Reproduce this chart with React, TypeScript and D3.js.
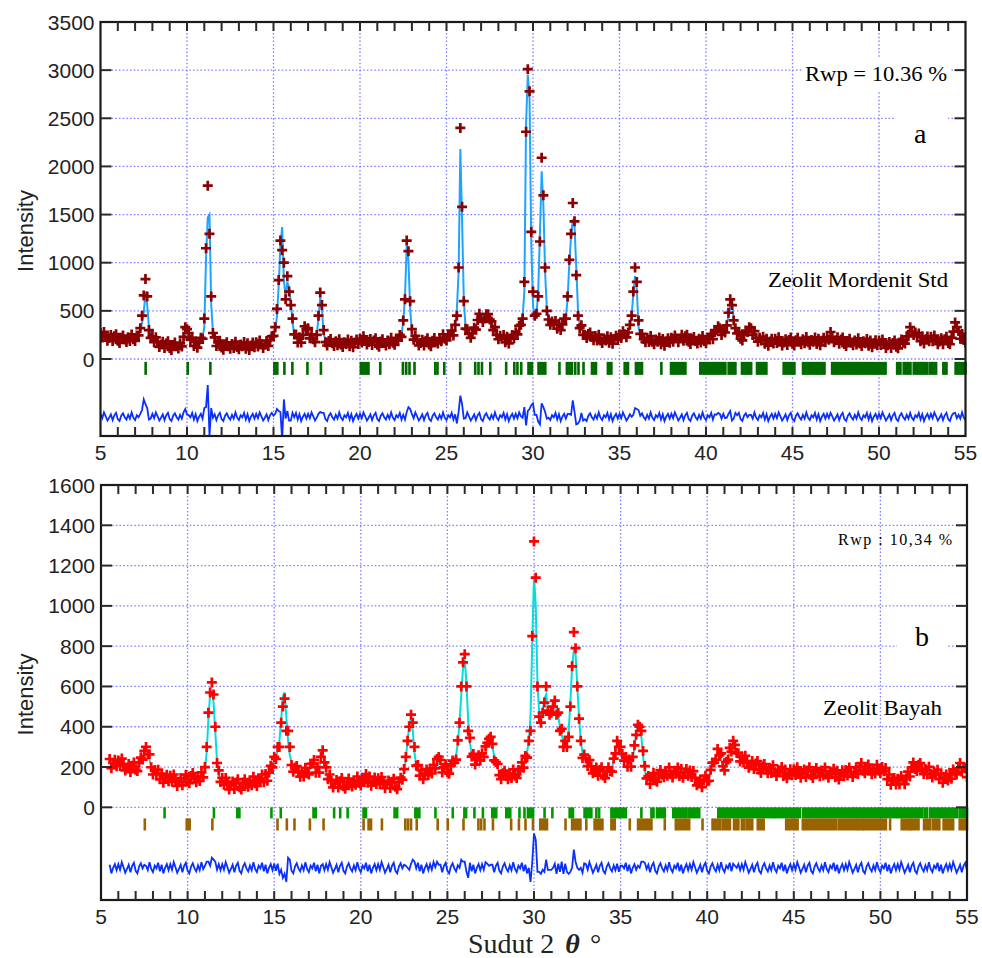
import React, { useRef, useEffect } from "react";
import * as d3 from "d3";

// 2-theta grid: panel a starts at 5.0, panel b at 5.5, both 0.1 deg steps
const stepA = 0.1;
const startA = 5.0;
const startB = 5.5;

// panel a : Zeolit Mordenit Std (observed)
const obsA = [
  270, 223, 281, 238, 190, 218, 250, 187, 235, 258,
  190, 167, 220, 243, 202, 176, 226, 187, 255, 205,
  187, 245, 245, 320, 450, 660, 830, 650, 300, 220,
  235, 175, 225, 177, 125, 150, 180, 115, 161, 183,
  115, 93, 146, 170, 131, 108, 162, 130, 230, 330,
  310, 270, 200, 220, 135, 185, 117, 170, 220, 210,
  420, 1150, 1800, 1300, 650, 270, 225, 135, 173, 190,
  120, 97, 150, 173, 132, 106, 155, 115, 180, 125,
  100, 150, 131, 176, 107, 163, 94, 140, 171, 122,
  173, 130, 192, 155, 113, 147, 187, 135, 195, 235,
  240, 330, 520, 820, 1230, 1130, 1000, 620, 860, 700,
  560, 420, 255, 255, 170, 225, 170, 250, 340, 310,
  320, 215, 255, 205, 175, 250, 450, 690, 560, 300,
  175, 140, 188, 207, 163, 135, 183, 142, 206, 150,
  125, 175, 156, 202, 133, 190, 122, 170, 203, 156,
  210, 170, 235, 197, 150, 177, 208, 145, 192, 215,
  148, 127, 181, 205, 165, 141, 192, 153, 220, 168,
  147, 203, 191, 250, 230, 400, 620, 1230, 1120, 600,
  310, 200, 240, 190, 140, 167, 200, 139, 189, 215,
  151, 133, 190, 218, 182, 162, 218, 185, 257, 210,
  193, 251, 240, 295, 245, 355, 450, 950, 2400, 1580,
  600, 315, 310, 260, 220, 265, 325, 305, 405, 470,
  425, 385, 420, 465, 465, 410, 390, 300, 330, 250,
  205, 240, 210, 248, 175, 230, 162, 212, 250, 212,
  278, 255, 345, 355, 420, 800, 2360, 3010, 2780, 1320,
  700, 450, 470, 650, 1220, 2090, 1700, 950, 500, 410,
  355, 390, 360, 395, 315, 365, 300, 360, 420, 420,
  650, 1030, 1300, 1620, 1430, 870, 450, 320, 350, 250,
  250, 217, 260, 275, 227, 195, 238, 192, 252, 193,
  165, 213, 192, 237, 168, 225, 158, 207, 242, 198,
  255, 218, 287, 257, 225, 275, 355, 450, 700, 950,
  800, 400, 260, 260, 207, 175, 220, 176, 238, 180,
  153, 201, 180, 224, 153, 208, 138, 184, 216, 168,
  221, 180, 245, 212, 175, 212, 251, 190, 235, 252,
  180, 155, 206, 228, 186, 160, 210, 171, 238, 186,
  165, 220, 207, 262, 206, 280, 300, 340, 320, 250,
  295, 275, 350, 480, 620, 560, 400, 320, 265, 280,
  210, 193, 255, 295, 280, 330, 320, 250, 290, 218,
  180, 220, 193, 232, 158, 210, 138, 182, 211, 160,
  210, 165, 225, 185, 140, 170, 205, 146, 197, 223,
  159, 140, 195, 220, 180, 154, 204, 163, 228, 173,
  148, 198, 178, 224, 155, 211, 142, 189, 221, 174,
  228, 200, 280, 230, 175, 195, 225, 158, 203, 224,
  156, 134, 187, 210, 169, 143, 192, 151, 215, 160,
  134, 184, 163, 208, 137, 192, 121, 165, 194, 143,
  192, 145, 203, 161, 114, 142, 176, 115, 165, 191,
  128, 111, 170, 201, 170, 160, 235, 235, 330, 290,
  250, 275, 235, 265, 185, 235, 162, 205, 234, 183,
  232, 185, 243, 201, 154, 182, 215, 154, 204, 230,
  167, 153, 220, 285, 380, 330, 290, 210, 260, 198,
  170,
];

// panel a : calculated profile
const calcA = [
  240, 238, 236, 233, 230, 228, 225, 222, 220, 218,
  215, 212, 210, 208, 207, 206, 206, 207, 210, 215,
  222, 230, 250, 290, 380, 480, 700, 560, 330, 240,
  205, 190, 180, 172, 165, 160, 155, 150, 146, 143,
  140, 138, 136, 135, 136, 138, 142, 150, 185, 250,
  285, 255, 205, 180, 165, 160, 162, 170, 190, 230,
  330, 1050, 1470, 1500, 560, 280, 200, 170, 158, 150,
  145, 142, 140, 138, 137, 136, 135, 135, 135, 135,
  135, 135, 136, 136, 137, 138, 139, 140, 141, 142,
  143, 145, 147, 150, 153, 157, 162, 170, 180, 195,
  230, 300, 440, 760, 1180, 1370, 820, 640, 800, 740,
  600, 380, 260, 215, 200, 200, 215, 250, 310, 330,
  290, 230, 210, 200, 215, 260, 420, 640, 520, 260,
  200, 185, 178, 172, 168, 165, 163, 162, 161, 160,
  160, 160, 161, 162, 163, 165, 167, 170, 173, 176,
  180, 185, 190, 192, 190, 187, 183, 180, 177, 175,
  173, 172, 171, 170, 170, 171, 172, 173, 175, 178,
  182, 188, 196, 210, 260, 380, 650, 1180, 1020, 520,
  280, 215, 195, 185, 180, 177, 175, 174, 174, 175,
  176, 178, 180, 183, 187, 192, 198, 205, 212, 220,
  228, 236, 245, 255, 275, 330, 520, 900, 2180, 1450,
  620, 330, 265, 255, 260, 275, 300, 340, 390, 430,
  450, 430, 410, 430, 470, 440, 370, 320, 285, 260,
  240, 225, 215, 208, 205, 205, 207, 212, 220, 232,
  248, 270, 300, 350, 430, 700, 2450, 2950, 2700, 1200,
  560, 430, 450, 700, 1300, 1950, 1600, 900, 520, 420,
  390, 375, 365, 355, 345, 340, 345, 360, 390, 440,
  620, 1000, 1280, 1450, 1380, 950, 520, 360, 310, 290,
  275, 262, 250, 240, 232, 225, 218, 212, 207, 203,
  200, 198, 197, 197, 198, 200, 203, 207, 212, 218,
  225, 233, 242, 252, 265, 285, 330, 450, 680, 860,
  720, 330, 250, 225, 212, 205, 200, 196, 193, 190,
  188, 186, 185, 184, 183, 183, 183, 184, 186, 188,
  191, 195, 200, 207, 215, 222, 226, 225, 220, 212,
  205, 200, 196, 193, 191, 190, 190, 191, 193, 196,
  200, 205, 212, 222, 236, 255, 280, 300, 290, 270,
  265, 290, 360, 450, 560, 600, 420, 280, 250, 240,
  235, 238, 245, 260, 285, 310, 300, 270, 245, 228,
  215, 205, 198, 192, 188, 185, 183, 182, 181, 180,
  180, 180, 180, 180, 180, 180, 180, 181, 182, 183,
  184, 185, 185, 185, 185, 184, 184, 183, 183, 183,
  183, 183, 183, 184, 185, 186, 187, 189, 191, 194,
  198, 215, 240, 225, 215, 205, 200, 193, 188, 184,
  181, 179, 177, 175, 174, 173, 172, 171, 170, 170,
  169, 169, 168, 168, 167, 167, 166, 165, 164, 163,
  162, 160, 158, 156, 154, 152, 151, 150, 150, 151,
  153, 156, 160, 166, 175, 190, 215, 255, 290, 300,
  285, 260, 240, 225, 215, 210, 207, 205, 204, 203,
  202, 200, 198, 196, 194, 192, 190, 189, 189, 190,
  192, 198, 210, 250, 340, 345, 270, 230, 215, 208,
  205,
];

// panel a : reflection positions (single lines or dense ranges)
const reflA = [
  [7.61], [10.04], [11.35], [15.05, 15.22], [15.63], [16.09], [16.96], [17.74],
  [20.05, 20.49], [21.17], [22.48], [22.67], [22.86], [23.15], [24.35], [24.48],
  [24.87], [25.79], [26.66], [26.85], [27.05], [27.53], [28.45], [28.92], [29.1],
  [29.32], [29.74, 29.94], [30.32, 30.71], [31.53], [31.96, 32.25], [32.44],
  [32.63], [32.92], [33.41, 33.64], [34.33, 34.53], [35.3, 35.49], [35.95, 36.3],
  [37.42], [37.98, 38.81], [39.67, 39.83], [39.96, 40.64], [40.74, 41.12],
  [41.31, 41.7], [42.08, 42.33], [42.41, 42.61], [42.95, 43.49], [44.49, 45.11],
  [45.61, 46.33], [46.43, 46.85], [47.29, 47.48], [47.58, 48.64], [48.72, 50.1],
  [50.24, 50.38], [51.05, 51.24], [51.43, 51.82], [52.01, 52.34], [52.44, 52.79],
  [52.94, 53.3], [53.72, 53.9], [54.43, 55.0],
];

// panel b : Zeolit Bayah (observed)
const obsB = [
  240, 194, 220, 236, 204,
  233, 205, 242, 215, 183, 198, 215, 175, 206, 223,
  187, 180, 221, 247, 237, 280, 300, 263, 263, 199,
  163, 185, 165, 187, 139, 168, 122, 147, 162, 129,
  157, 127, 163, 136, 106, 124, 145, 109, 143, 162,
  128, 120, 156, 170, 142, 125, 154, 131, 174, 149,
  200, 300, 470, 570, 620, 560, 400, 220, 183, 126,
  146, 112, 146, 118, 89, 107, 128, 91, 123, 139,
  100, 88, 123, 140, 116, 102, 133, 110, 152, 120,
  106, 141, 131, 163, 125, 165, 132, 172, 206, 198,
  250, 240, 300, 300, 420, 500, 540, 380, 380, 300,
  210, 177, 198, 205, 173, 152, 178, 153, 196, 169,
  163, 215, 217, 235, 172, 200, 172, 250, 283, 223,
  198, 140, 163, 131, 99, 116, 136, 98, 130, 145,
  105, 92, 126, 143, 118, 104, 135, 112, 153, 121,
  108, 144, 135, 165, 122, 153, 107, 132, 148, 116,
  144, 114, 150, 124, 95, 113, 133, 96, 127, 142,
  102, 90, 126, 147, 137, 190, 250, 330, 400, 460,
  420, 300, 207, 210, 157, 185, 140, 168, 188, 160,
  193, 168, 210, 193, 240, 250, 235, 173, 198, 213,
  175, 167, 206, 232, 222, 237, 332, 420, 600, 720,
  760, 600, 380, 345, 252, 265, 212, 238, 258, 233,
  268, 250, 303, 320, 340, 350, 315, 233, 225, 215,
  160, 140, 169, 182, 155, 139, 169, 146, 188, 157,
  146, 185, 182, 223, 197, 255, 247, 330, 380, 850,
  1320, 1140, 600, 450, 420, 470, 520, 600, 480, 460,
  470, 500, 530, 460, 470, 380, 390, 300, 330, 300,
  350, 500, 700, 870, 790, 600, 440, 330, 245, 262,
  243, 205, 235, 203, 169, 182, 198, 157, 186, 199,
  158, 145, 180, 199, 180, 177, 242, 268, 330, 300,
  300, 265, 232, 250, 202, 237, 202, 250, 308, 360,
  410, 400, 380, 280, 205, 144, 155, 116, 150, 170,
  135, 127, 166, 185, 162, 149, 180, 157, 198, 164,
  148, 181, 169, 198, 156, 190, 147, 174, 190, 157,
  183, 150, 180, 146, 109, 121, 138, 100, 135, 157,
  130, 132, 186, 222, 222, 237, 290, 258, 268, 204,
  183, 225, 237, 295, 277, 330, 310, 270, 268, 228,
  253, 222, 256, 228, 197, 212, 230, 190, 218, 230,
  187, 171, 202, 215, 187, 169, 197, 171, 209, 174,
  156, 187, 173, 200, 156, 188, 144, 172, 189, 159,
  189, 161, 199, 175, 147, 166, 188, 151, 183, 199,
  159, 146, 180, 195, 170, 154, 183, 158, 198, 163,
  147, 178, 165, 192, 149, 181, 138, 166, 184, 154,
  185, 158, 198, 176, 151, 174, 199, 166, 202, 220,
  182, 169, 201, 212, 182, 164, 192, 168, 211, 182,
  170, 200, 179, 195, 140, 163, 112, 133, 146, 113,
  142, 115, 156, 136, 115, 144, 177, 153, 198, 223,
  190, 180, 211, 220, 187, 165, 190, 163, 201, 166,
  148, 178, 162, 187, 140, 169, 122, 147, 163, 133,
  165, 142, 188, 175, 163, 194, 220, 176, 195, 197,
  150,
];

// panel b : calculated profile
const calcB = [
  225, 222, 220, 218, 216,
  215, 215, 214, 212, 208, 204, 200, 197, 196, 198,
  202, 208, 215, 225, 240, 265, 290, 275, 235, 205,
  185, 175, 168, 162, 157, 153, 150, 147, 144, 141,
  139, 137, 135, 133, 131, 130, 130, 131, 133, 137,
  143, 148, 150, 148, 145, 143, 142, 143, 146, 155,
  190, 270, 440, 560, 570, 520, 370, 230, 165, 138,
  128, 122, 118, 115, 114, 113, 113, 113, 113, 114,
  115, 116, 117, 118, 119, 120, 121, 122, 124, 126,
  128, 131, 134, 138, 143, 150, 160, 172, 188, 210,
  230, 255, 280, 330, 430, 550, 570, 450, 330, 260,
  225, 205, 192, 183, 176, 170, 166, 165, 168, 175,
  185, 205, 220, 210, 190, 185, 200, 240, 265, 235,
  180, 150, 135, 128, 124, 122, 121, 120, 120, 120,
  120, 120, 120, 121, 121, 122, 123, 124, 125, 127,
  130, 134, 138, 140, 140, 138, 135, 132, 130, 128,
  126, 124, 122, 121, 120, 119, 118, 118, 117, 117,
  117, 118, 120, 125, 140, 175, 240, 330, 410, 440,
  380, 270, 210, 185, 175, 170, 168, 168, 170, 172,
  175, 178, 182, 190, 210, 235, 220, 195, 188, 188,
  190, 195, 200, 210, 225, 255, 320, 420, 560, 690,
  730, 620, 430, 320, 270, 250, 240, 238, 240, 245,
  250, 260, 275, 300, 330, 335, 300, 255, 215, 190,
  175, 168, 163, 160, 158, 157, 157, 158, 160, 163,
  168, 175, 185, 198, 215, 240, 275, 330, 450, 820,
  1150, 1000, 620, 470, 450, 480, 540, 560, 490, 470,
  480, 500, 510, 490, 450, 400, 360, 330, 310, 320,
  380, 520, 700, 780, 760, 600, 450, 330, 270, 240,
  225, 215, 207, 200, 194, 188, 183, 179, 176, 174,
  173, 173, 174, 177, 183, 195, 230, 280, 310, 320,
  290, 255, 235, 225, 220, 222, 230, 250, 290, 370,
  400, 400, 350, 250, 180, 150, 140, 138, 140, 145,
  150, 155, 160, 163, 165, 167, 168, 169, 170, 170,
  170, 171, 172, 173, 174, 175, 175, 174, 172, 169,
  165, 160, 152, 143, 134, 127, 123, 122, 125, 132,
  145, 160, 180, 200, 225, 255, 275, 270, 240, 210,
  205, 215, 240, 270, 295, 310, 300, 270, 250, 240,
  235, 232, 228, 225, 222, 218, 215, 212, 208, 205,
  202, 199, 196, 193, 190, 187, 185, 183, 181, 180,
  178, 177, 176, 175, 174, 173, 172, 172, 171, 171,
  171, 171, 171, 172, 172, 172, 173, 173, 173, 174,
  174, 174, 174, 173, 173, 172, 171, 170, 170, 169,
  169, 168, 168, 167, 167, 166, 166, 166, 166, 166,
  167, 168, 170, 173, 176, 180, 184, 188, 192, 195,
  197, 197, 195, 190, 185, 182, 180, 180, 183, 188,
  192, 190, 182, 170, 158, 148, 140, 133, 128, 125,
  124, 125, 128, 133, 140, 150, 162, 175, 188, 198,
  205, 208, 205, 198, 190, 183, 178, 175, 173, 172,
  170, 168, 165, 162, 158, 154, 150, 147, 145, 145,
  147, 152, 160, 172, 188, 200, 205, 198, 185, 172,
  165,
];

// panel b : reflections of phase 1 (green) and phase 2 (brown)
const reflB1 = [
  [8.67], [11.52], [12.87, 12.99], [14.84], [15.38], [17.27, 17.4], [18.46],
  [18.81], [19.24], [20.16, 20.3], [21.95, 22.1], [23.15, 23.38], [24.31],
  [25.31], [25.98, 26.08], [26.56], [27.05], [27.59, 27.82], [28.4, 28.63],
  [29.16], [29.45], [29.65, 29.94], [30.61], [31.06], [32.06, 32.25],
  [32.92, 33.31], [33.6], [33.76], [34.47, 34.66], [34.8, 34.9], [35.0, 35.3],
  [36.2], [36.78, 36.9], [37.1, 37.55], [38.04, 38.81], [38.96, 39.54],
  [40.64, 41.89], [41.99, 42.28], [42.37, 43.14], [43.24, 43.82], [43.91, 45.36],
  [45.55, 46.51], [46.61, 48.45], [48.55, 48.7], [48.83, 49.8], [49.9, 50.95],
  [51.05, 52.4], [52.55, 52.7], [52.88, 54.43], [54.58, 55.0],
];
const reflB2 = [
  [7.53], [9.95, 10.12], [11.43], [15.19], [15.73], [16.17], [17.06], [17.85],
  [20.16], [20.45, 20.59], [21.22], [22.57], [22.73], [22.9], [23.23], [24.44],
  [25.02], [25.93], [26.79], [26.95], [27.14], [27.63], [28.68], [29.13],
  [29.51], [29.94], [30.36, 30.75], [31.82], [32.2, 32.68], [33.02], [33.5, 33.95],
  [34.47, 34.66], [35.53], [36.01, 36.78], [37.55], [38.19, 38.96], [39.73],
  [40.31, 40.74], [40.89, 41.31], [41.55, 41.8], [42.0, 42.15], [42.3, 42.6],
  [42.92, 43.26], [44.56, 45.22], [45.52, 46.96], [47.1, 47.45], [47.6, 48.64],
  [48.75, 49.0], [49.05, 50.32], [50.56], [51.23, 51.72], [51.8, 52.2],
  [52.52, 52.88], [53.05, 53.4], [53.65, 53.94], [54.05, 54.2], [54.58, 55.0],
];

const xTicks = [5, 10, 15, 20, 25, 30, 35, 40, 45, 50, 55];
const yTicksA = [0, 500, 1000, 1500, 2000, 2500, 3000, 3500];
const yTicksB = [0, 200, 400, 600, 800, 1000, 1200, 1400, 1600];

const SANS = "'Liberation Sans', Arial, sans-serif";
const SERIF = "'Liberation Serif', 'Times New Roman', serif";

type Panel = {
  id: string;
  left: number;
  right: number;
  top: number;
  bottom: number;
  yDomain: [number, number];
  yTicks: number[];
  start: number;
  obs: number[];
  calc: number[];
  diffOffset: number;
  obsColor: string;
  calcColor: string;
  phases: { refl: number[][]; color: string; y0: number; y1: number }[];
  xLabelY: number;
};

const drawPanel = (svg: any, p: Panel) => {
  const xScale = d3.scaleLinear().domain([5, 55]).range([p.left, p.right]);
  const yScale = d3.scaleLinear().domain(p.yDomain).range([p.bottom, p.top]);
  const gridMax = p.yTicks[p.yTicks.length - 2];

  svg
    .append("defs")
    .append("clipPath")
    .attr("id", "clip-" + p.id)
    .append("rect")
    .attr("x", p.left)
    .attr("y", p.top)
    .attr("width", p.right - p.left)
    .attr("height", p.bottom - p.top);

  const g = svg.append("g");

  // dotted grid
  const grid = g
    .append("g")
    .attr("stroke", "#7c7cff")
    .attr("stroke-width", 1.3)
    .attr("stroke-dasharray", "1.5,2.2");
  grid
    .selectAll("line.gv")
    .data(xTicks.slice(1, -1))
    .join("line")
    .attr("class", "gv")
    .attr("x1", (d) => xScale(d))
    .attr("x2", (d) => xScale(d))
    .attr("y1", p.top)
    .attr("y2", p.bottom);
  grid
    .selectAll("line.gh")
    .data(p.yTicks.filter((d) => d <= gridMax))
    .join("line")
    .attr("class", "gh")
    .attr("x1", p.left)
    .attr("x2", p.right)
    .attr("y1", (d) => yScale(d))
    .attr("y2", (d) => yScale(d));

  // reflection markers
  p.phases.forEach((ph) => {
    g.append("g")
      .attr("fill", ph.color)
      .selectAll("rect")
      .data(ph.refl)
      .join("rect")
      .attr("x", (d) => xScale(d[0]) - 1.3)
      .attr("width", (d) => Math.max(2.6, xScale(d[d.length - 1]) - xScale(d[0]) + 2.6))
      .attr("y", yScale(ph.y0))
      .attr("height", yScale(ph.y1) - yScale(ph.y0));
  });

  const xAt = (i: number) => xScale(p.start + i * stepA);
  const plot = g.append("g").attr("clip-path", `url(#clip-${p.id})`);

  // calculated profile
  const calcLine = d3
    .line<number>()
    .x((d, i) => xAt(i))
    .y((d) => yScale(d));
  plot
    .append("path")
    .attr("d", calcLine(p.calc))
    .attr("fill", "none")
    .attr("stroke", p.calcColor)
    .attr("stroke-width", 2);

  // observed points as "+"
  const s = 5;
  const plus = p.obs
    .map((v, i) => {
      const x = xAt(i);
      const y = yScale(v);
      return `M${x - s},${y}H${x + s}M${x},${y - s}V${y + s}`;
    })
    .join("");
  plot
    .append("path")
    .attr("d", plus)
    .attr("fill", "none")
    .attr("stroke", p.obsColor)
    .attr("stroke-width", 2.7);

  // difference curve (obs - calc), shifted below the zero line
  const diffLine = d3
    .line<number>()
    .x((d, i) => xAt(i))
    .y((d, i) => yScale(p.obs[i] - d + p.diffOffset));
  plot
    .append("path")
    .attr("d", diffLine(p.calc))
    .attr("fill", "none")
    .attr("stroke", "#0a30ff")
    .attr("stroke-width", 1.8);

  // frame
  g.append("rect")
    .attr("x", p.left)
    .attr("y", p.top)
    .attr("width", p.right - p.left)
    .attr("height", p.bottom - p.top)
    .attr("fill", "none")
    .attr("stroke", "#1a1a1a")
    .attr("stroke-width", 2.2);

  // inward ticks
  const ticks = g.append("g").attr("stroke", "#2a2a2a").attr("stroke-width", 2);
  const minor = d3.range(6, 55);
  ticks
    .selectAll("line.tt")
    .data(minor)
    .join("line")
    .attr("class", "tt")
    .attr("x1", (d) => xScale(d))
    .attr("x2", (d) => xScale(d))
    .attr("y1", p.top)
    .attr("y2", p.top + 9);
  ticks
    .selectAll("line.tb")
    .data(minor)
    .join("line")
    .attr("class", "tb")
    .attr("x1", (d) => xScale(d))
    .attr("x2", (d) => xScale(d))
    .attr("y1", p.bottom - 9)
    .attr("y2", p.bottom);
  const yt = p.yTicks.filter((d) => d <= gridMax);
  ticks
    .selectAll("line.tl")
    .data(yt)
    .join("line")
    .attr("class", "tl")
    .attr("x1", p.left)
    .attr("x2", p.left + 11)
    .attr("y1", (d) => yScale(d))
    .attr("y2", (d) => yScale(d));
  ticks
    .selectAll("line.tr")
    .data(yt)
    .join("line")
    .attr("class", "tr")
    .attr("x1", p.right - 11)
    .attr("x2", p.right)
    .attr("y1", (d) => yScale(d))
    .attr("y2", (d) => yScale(d));

  // tick labels
  g.append("g")
    .selectAll("text")
    .data(p.yTicks)
    .join("text")
    .attr("x", p.left - 6)
    .attr("y", (d) => yScale(d))
    .attr("dy", "0.36em")
    .attr("text-anchor", "end")
    .attr("font-family", SANS)
    .attr("font-size", 21)
    .attr("fill", "#222")
    .text((d) => d);
  g.append("g")
    .selectAll("text")
    .data(xTicks)
    .join("text")
    .attr("x", (d) => xScale(d))
    .attr("y", p.xLabelY)
    .attr("text-anchor", "middle")
    .attr("font-family", SANS)
    .attr("font-size", 21)
    .attr("fill", "#222")
    .text((d) => d);

  // y axis title
  g.append("text")
    .attr("transform", `translate(33,${(p.top + p.bottom) / 2 + 2}) rotate(-90)`)
    .attr("text-anchor", "middle")
    .attr("font-family", SANS)
    .attr("font-size", 22)
    .attr("fill", "#222")
    .text("Intensity");

  return g;
};

const App = () => {
  const chartRef = useRef<HTMLDivElement>(null);

  useEffect(() => {
    const root = d3.select(chartRef.current);
    root.selectAll("*").remove();
    const svg = root
      .append("svg")
      .attr("width", 982)
      .attr("height", 958)
      .style("display", "block")
      .style("background", "#fff");

    const ga = drawPanel(svg, {
      id: "a",
      left: 100.5,
      right: 965.5,
      top: 22,
      bottom: 436,
      yDomain: [-800, 3500],
      yTicks: yTicksA,
      start: startA,
      obs: obsA,
      calc: calcA,
      diffOffset: -600,
      obsColor: "#8b0000",
      calcColor: "#1ea4ff",
      phases: [{ refl: reflA, color: "#006a00", y0: -30, y1: -165 }],
      xLabelY: 460,
    });

    const gb = drawPanel(svg, {
      id: "b",
      left: 101,
      right: 967,
      top: 485,
      bottom: 900,
      yDomain: [-460, 1600],
      yTicks: yTicksB,
      start: startB,
      obs: obsB,
      calc: calcB,
      diffOffset: -300,
      obsColor: "#ff0000",
      calcColor: "#00dede",
      phases: [
        { refl: reflB1, color: "#009a00", y0: 0, y1: -55 },
        { refl: reflB2, color: "#996300", y0: -55, y1: -115 },
      ],
      xLabelY: 924,
    });

    // annotation boxes + texts, panel a
    ga.append("rect").attr("x", 803).attr("y", 58).attr("width", 147).attr("height", 32).attr("fill", "#fff");
    ga.append("rect").attr("x", 895).attr("y", 104).attr("width", 53).attr("height", 46).attr("fill", "#fff");
    ga.append("text")
      .attr("x", 805)
      .attr("y", 81)
      .attr("font-family", SERIF)
      .attr("font-size", 22)
      .attr("textLength", 142)
      .attr("lengthAdjust", "spacingAndGlyphs")
      .text("Rwp = 10.36 %");
    ga.append("text")
      .attr("x", 914)
      .attr("y", 143)
      .attr("font-family", SERIF)
      .attr("font-size", 28)
      .text("a");
    ga.append("text")
      .attr("x", 768)
      .attr("y", 287)
      .attr("font-family", SERIF)
      .attr("font-size", 20)
      .attr("textLength", 180)
      .attr("lengthAdjust", "spacingAndGlyphs")
      .text("Zeolit Mordenit Std");

    // annotation boxes + texts, panel b
    gb.append("rect").attr("x", 897).attr("y", 620).attr("width", 51).attr("height", 40).attr("fill", "#fff");
    gb.append("text")
      .attr("x", 838)
      .attr("y", 545)
      .attr("font-family", SERIF)
      .attr("font-size", 16)
      .attr("textLength", 114)
      .attr("lengthAdjust", "spacing")
      .text("Rwp : 10,34 %");
    gb.append("text")
      .attr("x", 915)
      .attr("y", 646)
      .attr("font-family", SERIF)
      .attr("font-size", 28)
      .text("b");
    gb.append("text")
      .attr("x", 823)
      .attr("y", 715)
      .attr("font-family", SERIF)
      .attr("font-size", 20)
      .attr("textLength", 119)
      .attr("lengthAdjust", "spacingAndGlyphs")
      .text("Zeolit Bayah");

    // x axis title
    const xt = svg
      .append("text")
      .attr("x", 468)
      .attr("y", 953)
      .attr("font-family", SERIF)
      .attr("font-size", 28)
      .attr("fill", "#222");
    xt.append("tspan").text("Sudut 2");
    xt.append("tspan").attr("dx", 11).attr("font-weight", "bold").attr("font-style", "italic").text("θ");
    xt.append("tspan").attr("dx", 10).text("°");
  }, []);

  return (
    <div
      ref={chartRef}
      style={{ position: "absolute", left: 0, top: 0, width: 982, height: 958 }}
    ></div>
  );
};

export default App;
